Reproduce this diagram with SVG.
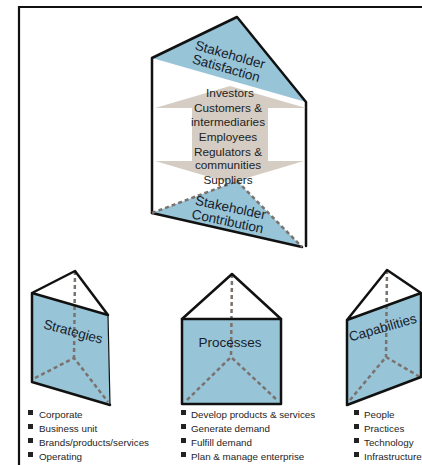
<svg xmlns="http://www.w3.org/2000/svg" width="422" height="465" viewBox="0 0 422 465">
  <style>
    .face { fill: #98c4d8; }
    .edge { fill: none; stroke: #111; stroke-width: 2.5; stroke-linejoin: round; stroke-linecap: round; }
    .thin { fill: none; stroke: #111; stroke-width: 1.2; }
    .hidden { fill: none; stroke: #7a726c; stroke-width: 2.5; stroke-dasharray: 4 3; }
    .label { font-family: "Liberation Sans", Arial, sans-serif; font-size: 13.5px; fill: #16212b; text-anchor: middle; }
    .stake { font-family: "Liberation Sans", Arial, sans-serif; font-size: 11.8px; fill: #222; text-anchor: middle; }
    .list { font-family: "Liberation Sans", Arial, sans-serif; font-size: 9.8px; fill: #1e1e1e; }
    .bullet { fill: #222; }
  </style>

  <rect width="422" height="465" fill="#ffffff"/>

  <!-- page frame -->
  <g id="frame">
    <path d="M19,465 V7 H422" fill="none" stroke="#111" stroke-width="2.2"/>
  </g>

  <!-- stakeholder prism -->
  <g id="node-stakeholders">
    <polygon points="237,17 152,58 306,102" class="face"/>
    <polygon points="152,213 237,181 302,247" class="face"/>
    <polyline points="152,213 152,58 237,17 306,102 306,246" class="edge"/>
    <line x1="152" y1="213" x2="302" y2="247" class="edge"/>
    <polyline points="152,213 237,181 302,247" class="hidden"/>
    <g transform="translate(228,62) rotate(16)">
      <text class="label" x="0" y="-3">Stakeholder</text>
      <text class="label" x="0" y="11">Satisfaction</text>
    </g>
    <g transform="translate(229,215) rotate(12)">
      <text class="label" x="0" y="-3">Stakeholder</text>
      <text class="label" x="0" y="11">Contribution</text>
    </g>
  </g>

  <!-- two-way flow between satisfaction and contribution -->
  <g id="connectors">
    <polygon points="230,86 306,108 268,108 268,161 304,161 230,183 155,161 192,161 192,108 155,108" fill="#d5cdc3"/>
  </g>

  <g id="stakeholder-list">
    <text class="stake" x="230" y="97">Investors</text>
    <text class="stake" x="228" y="112">Customers &amp;</text>
    <text class="stake" x="228" y="126">intermediaries</text>
    <text class="stake" x="228" y="141">Employees</text>
    <text class="stake" x="228" y="156">Regulators &amp;</text>
    <text class="stake" x="228" y="169">communities</text>
    <text class="stake" x="228" y="184">Suppliers</text>
  </g>

  <!-- strategies prism -->
  <g id="node-strategies">
    <polygon points="32,293 108,315 110,405 32,382" class="face"/>
    <line x1="75" y1="271" x2="74" y2="358" class="hidden"/>
    <polyline points="35,378 74,358 108,402" class="hidden"/>
    <line x1="108" y1="315" x2="110" y2="405" class="thin"/>
    <polyline points="110,405 32,382 32,293 75,271 108,315 32,293" class="edge"/>
    <text class="label" transform="translate(72,336) rotate(15)">Strategies</text>
    <rect class="bullet" x="28" y="410" width="5" height="5"/>
    <rect class="bullet" x="28" y="424" width="5" height="5"/>
    <rect class="bullet" x="28" y="438" width="5" height="5"/>
    <rect class="bullet" x="28" y="452" width="5" height="5"/>
    <text class="list" x="39" y="418">Corporate</text>
    <text class="list" x="39" y="432">Business unit</text>
    <text class="list" x="39" y="446">Brands/products/services</text>
    <text class="list" x="39" y="460">Operating</text>
  </g>

  <!-- processes prism -->
  <g id="node-processes">
    <rect x="182" y="319" width="99" height="85" class="face"/>
    <line x1="232" y1="274" x2="231" y2="357" class="hidden"/>
    <polyline points="187,400 231,357 277,400" class="hidden"/>
    <polygon points="182,319 281,319 281,404 182,404" class="edge"/>
    <polyline points="182,319 232,274 281,319" class="edge"/>
    <text class="label" x="230" y="347">Processes</text>
    <rect class="bullet" x="181" y="410" width="5" height="5"/>
    <rect class="bullet" x="181" y="424" width="5" height="5"/>
    <rect class="bullet" x="181" y="438" width="5" height="5"/>
    <rect class="bullet" x="181" y="452" width="5" height="5"/>
    <text class="list" x="191" y="418">Develop products &amp; services</text>
    <text class="list" x="191" y="432">Generate demand</text>
    <text class="list" x="191" y="446">Fulfill demand</text>
    <text class="list" x="191" y="460">Plan &amp; manage enterprise</text>
  </g>

  <!-- capabilities prism -->
  <g id="node-capabilities">
    <polygon points="347,320 421,293 421,377 347,405" class="face"/>
    <line x1="387" y1="270" x2="386" y2="357" class="hidden"/>
    <polyline points="350,400 386,357 420,377" class="hidden"/>
    <polyline points="347,320 387,270 421,293 421,377 347,405 347,320 421,293" class="edge"/>
    <text class="label" transform="translate(384,332) rotate(-16)">Capabilities</text>
    <rect class="bullet" x="354" y="410" width="5" height="5"/>
    <rect class="bullet" x="354" y="424" width="5" height="5"/>
    <rect class="bullet" x="354" y="438" width="5" height="5"/>
    <rect class="bullet" x="354" y="452" width="5" height="5"/>
    <text class="list" x="364" y="418">People</text>
    <text class="list" x="364" y="432">Practices</text>
    <text class="list" x="364" y="446">Technology</text>
    <text class="list" x="364" y="460">Infrastructure</text>
  </g>
</svg>
